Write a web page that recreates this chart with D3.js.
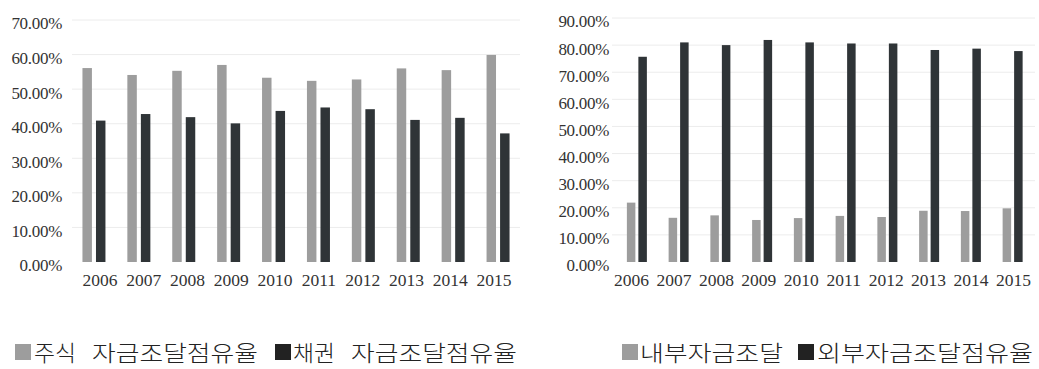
<!DOCTYPE html>
<html>
<head>
<meta charset="utf-8">
<script src="https://cdn.jsdelivr.net/npm/d3@7"></script>
<style>
  html, body { margin: 0; padding: 0; background: #fff; }
  svg { display: block; }
</style>
</head>
<body>
<svg id="chart" width="1039" height="369"></svg>
<script>
// ---- data ----
const years = ["2006","2007","2008","2009","2010","2011","2012","2013","2014","2015"];
const equityShare = [56.1, 54.1, 55.3, 57.0, 53.3, 52.4, 52.8, 56.0, 55.5, 59.9];
const bondShare   = [40.9, 42.8, 41.9, 40.1, 43.7, 44.7, 44.2, 41.1, 41.7, 37.2];
const internalFunding = [21.9, 16.3, 17.2, 15.5, 16.2, 17.0, 16.6, 18.9, 18.8, 19.8];
const externalShare   = [75.7, 81.0, 80.0, 81.9, 81.0, 80.6, 80.6, 78.2, 78.7, 77.8];
const leftTicks  = [0, 10, 20, 30, 40, 50, 60, 70];
const rightTicks = [0, 10, 20, 30, 40, 50, 60, 70, 80, 90];
const leftLegend  = ["주식", "자금조달점유율", "채권", "자금조달점유율"];
const rightLegend = ["내부자금조달", "외부자금조달점유율"];

const LIGHT = "#9d9d9d", DARK = "#2f3437";
const svg = d3.select("#chart");

function panel(cfg) {
  const g = svg.append("g");
  const y = d3.scaleLinear().domain([0, cfg.max]).range([cfg.y0, cfg.y1]);
  const x = d3.scaleBand().domain(years).range(cfg.xr).paddingInner(0).paddingOuter(0);
  const bw = x.bandwidth();
  const x1 = d3.scaleBand().domain([0, 1])
    .range([bw / 2 - cfg.gw / 2, bw / 2 + cfg.gw / 2]).paddingInner(cfg.pin);

  // gridlines
  g.append("g").selectAll("line").data(cfg.ticks.slice(1)).join("line")
    .attr("x1", cfg.gx[0]).attr("x2", cfg.gx[1])
    .attr("y1", d => y(d)).attr("y2", d => y(d))
    .attr("stroke", "#ececec").attr("stroke-width", 1);

  // y axis
  const ya = g.append("g").attr("transform", `translate(${cfg.ax},0)`)
    .call(d3.axisLeft(y).tickValues(cfg.ticks).tickSize(0).tickPadding(0)
      .tickFormat(d => d3.format(".2f")(d) + "%"));
  ya.select(".domain").remove();
  ya.selectAll("text").attr("font-family", "'Liberation Serif', serif")
    .attr("font-size", 17).attr("fill", "#333").attr("dy", "0.32em")
    .attr("y", 3.5).attr("letter-spacing", "-0.3");

  // bars
  const series = [cfg.a, cfg.b];
  const cols = [LIGHT, DARK];
  series.forEach((vals, si) => {
    g.append("g").selectAll("rect").data(vals).join("rect")
      .attr("x", (d, i) => x(years[i]) + x1(si))
      .attr("width", x1.bandwidth())
      .attr("y", d => y(d))
      .attr("height", d => y(0) - y(d))
      .attr("fill", cols[si]);
  });

  // x labels
  const xl = d3.scalePoint().domain(years).range(cfg.lr);
  const xa = g.append("g").attr("transform", `translate(0,${cfg.ly})`)
    .call(d3.axisBottom(xl).tickSize(0).tickPadding(0));
  xa.select(".domain").remove();
  xa.selectAll("text").attr("font-family", "'Liberation Serif', serif")
    .attr("font-size", 17.5).attr("fill", "#333").attr("dy", "0").attr("y", 0);
}

panel({ max: 70, y0: 262, y1: 20, ticks: leftTicks, xr: [71.5, 520.5], gw: 23, pin: 0.3,
        gx: [72, 520], ax: 62, a: equityShare, b: bondShare, lr: [99.5, 493.5], ly: 286 });
panel({ max: 90, y0: 262, y1: 18, ticks: rightTicks, xr: [616, 1033.5], gw: 20, pin: 0.26,
        gx: [612, 1035], ax: 609, a: internalFunding, b: externalShare, lr: [631, 1013], ly: 286 });

// legends
const lg = svg.append("g").attr("font-family", "'Noto Sans CJK KR', sans-serif")
  .attr("font-size", 22).attr("font-weight", 300).attr("fill", "#222");
function sq(x, c) { lg.append("rect").attr("x", x).attr("y", 344).attr("width", 16).attr("height", 16).attr("fill", c); }
function tx(x, t, w) {
  lg.append("text").attr("x", x).attr("y", 361).attr("textLength", w)
    .attr("lengthAdjust", "spacingAndGlyphs").text(t);
}
sq(15, LIGHT); tx(34, leftLegend[0], 42); tx(92, leftLegend[1], 166);
sq(275, "#222"); tx(293, leftLegend[2], 42); tx(351, leftLegend[3], 166);
sq(622, LIGHT); tx(640, rightLegend[0], 143);
sq(798, "#222"); tx(817, rightLegend[1], 216);
</script>
</body>
</html>
